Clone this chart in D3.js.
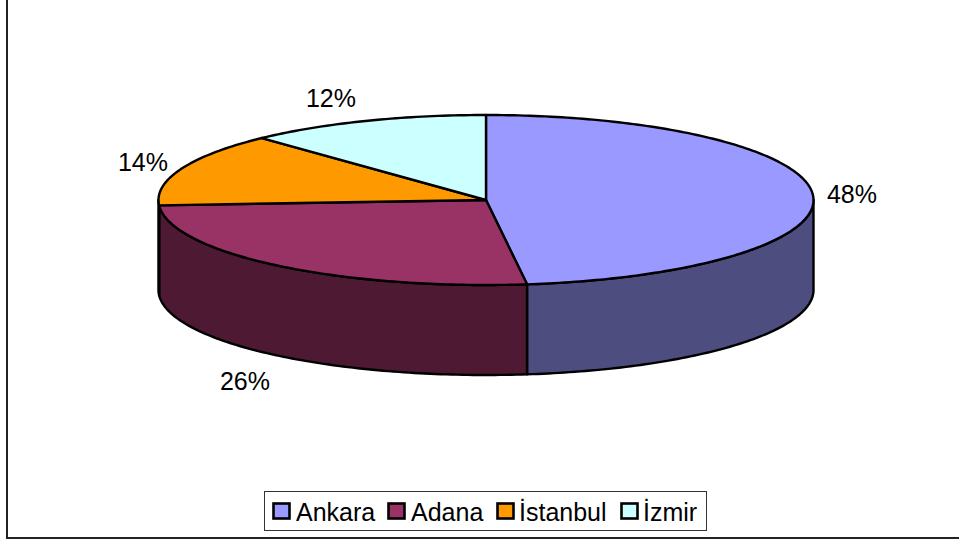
<!DOCTYPE html>
<html><head><meta charset="utf-8">
<script src="https://cdn.jsdelivr.net/npm/d3@7"></script>
<style>html,body{margin:0;padding:0;background:#fff}svg{display:block}text{font-family:"Liberation Sans",Arial,sans-serif;fill:#000}</style>
</head><body><svg id="c" width="959" height="540"></svg>
<script>
const categories = ["Ankara","Adana","İstanbul","İzmir"];
const values = [48,26,14,12];
const labels = ["48%","26%","14%","12%"];
const topColors = ["#9999ff","#993366","#ff9900","#ccffff"];
const sideColors = ["#4d4d80","#4d1933","#804d00","#668080"];
const labelAnchors = [[852,203],[245,390],[143,171],[331,107]];

const svg = d3.select("#c");
const cx=486, cy=200, rx=327.5, ry=85, depth=90;
svg.append("path").attr("d","M7,0V538H959").attr("fill","none").attr("stroke","#222").attr("stroke-width",2);

const arcs = d3.pie().sort(null).value(d=>d)(values);
const px = t=>cx+rx*Math.sin(t), py=t=>cy-ry*Math.cos(t);
const line = d3.line();
const samples=(a,b)=>{const n=Math.max(2,Math.ceil((b-a)*60));return d3.range(n+1).map(i=>a+(b-a)*i/n);};

const sideG=svg.append("g"), topG=svg.append("g");
arcs.forEach((a,i)=>{
  const s=Math.max(a.startAngle,Math.PI/2), e=Math.min(a.endAngle,Math.PI*1.5);
  if(e>s){
    const ts=samples(s,e);
    const upper=ts.map(t=>[px(t),py(t)]);
    const lower=ts.slice().reverse().map(t=>[px(t),py(t)+depth]);
    sideG.append("path").attr("d",line(upper.concat(lower))+"Z")
      .attr("fill",sideColors[i]).attr("stroke","#000").attr("stroke-width",2.4).attr("stroke-linejoin","round");
  }
  const pts=[[cx,cy]].concat(samples(a.startAngle,a.endAngle).map(t=>[px(t),py(t)]));
  topG.append("path").attr("d",line(pts)+"Z").attr("fill",topColors[i])
    .attr("stroke","#000").attr("stroke-width",2.4).attr("stroke-linejoin","round");
});

labels.forEach((l,i)=>{
  svg.append("text").attr("x",labelAnchors[i][0]).attr("y",labelAnchors[i][1])
    .attr("text-anchor","middle").attr("font-size",25).text(l);
});

const lg=svg.append("g");
lg.append("rect").attr("x",264.5).attr("y",491.5).attr("width",442).attr("height",39).attr("fill","#fff").attr("stroke","#333").attr("stroke-width",1);
const swatchX=[273.5,388.5,497.5,621.5], textX=[296,411,519,643];
categories.forEach((c,i)=>{
  lg.append("rect").attr("x",swatchX[i]).attr("y",503.5).attr("width",16).attr("height",15)
    .attr("fill",topColors[i]).attr("stroke","#000").attr("stroke-width",2.6);
  lg.append("text").attr("x",textX[i]).attr("y",521).attr("font-size",25).text(c);
});
</script></body></html>
